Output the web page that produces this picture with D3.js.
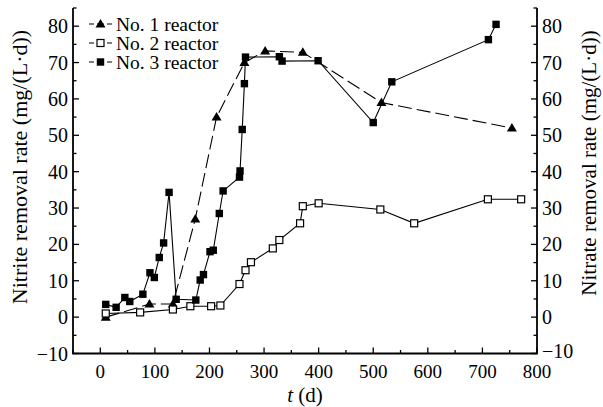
<!DOCTYPE html>
<html>
<head>
<meta charset="utf-8">
<script src="https://cdn.jsdelivr.net/npm/d3@7"></script>
<style>
  body { margin: 0; background: #fff; }
  text { font-family: "Liberation Serif", "Times New Roman", serif; fill: #000; }
</style>
</head>
<body>
<div id="chart"></div>
<script>
// values
const days1 = [10, 90, 133, 174, 213, 264, 302, 371, 515, 754];
const rate1 = [0, 3.6, 3.6, 27, 55, 70, 73.2, 72.8, 59, 52];

const days2 = [10, 73, 133, 165, 203, 220, 255, 266, 276, 316, 328, 366, 371, 400, 513, 575, 710, 771];
const rate2 = [1.0, 1.3, 2.1, 3.0, 3.0, 3.2, 9.1, 12.9, 15.1, 18.9, 21.2, 25.8, 30.5, 31.3, 29.6, 25.8, 32.4, 32.4];

const days3 = [10, 29, 45, 54, 78, 91, 99, 108, 116, 126, 139, 175, 183, 189, 201, 207, 218, 225, 255, 256, 260, 264, 266, 328, 333, 399, 500, 534, 711, 725];
const rate3 = [3.5, 2.7, 5.4, 4.3, 6.3, 12.2, 10.9, 16.4, 20.4, 34.3, 4.9, 4.7, 10.2, 11.7, 18.0, 18.4, 28.5, 34.7, 38.5, 40.2, 51.6, 64.2, 71.5, 71.6, 70.4, 70.5, 53.5, 64.7, 76.3, 80.5];

const seriesNames = ["No. 1 reactor", "No. 2 reactor", "No. 3 reactor"];
const xTicks = [0, 100, 200, 300, 400, 500, 600, 700, 800];
const yTicks = [-10, 0, 10, 20, 30, 40, 50, 60, 70, 80];

var width = 603, height = 407;
var margin = {top: 8, right: 66, bottom: 53.5, left: 73};

var x = d3.scaleLinear().domain([-50, 800]).range([margin.left, width - margin.right]);
var y = d3.scaleLinear().domain([-10, 85]).range([height - margin.bottom, margin.top]);

var svg = d3.select("#chart").append("svg")
  .attr("width", width)
  .attr("height", height);

function zip(a, b) { return a.map(function(d, i) { return [d, b[i]]; }); }

var series = [
  {name: seriesNames[0], pts: zip(days1, rate1), marker: "tri", dash: "14,5"},
  {name: seriesNames[1], pts: zip(days2, rate2), marker: "open", dash: null},
  {name: seriesNames[2], pts: zip(days3, rate3), marker: "fill", dash: null}
];

var line = d3.line().x(function(d) { return x(d[0]); }).y(function(d) { return y(d[1]); });

function drawMarker(g, kind, cx, cy) {
  if (kind == "tri") {
    g.append("path")
      .attr("d", "M" + cx + "," + (cy - 5) + "L" + (cx + 5) + "," + (cy + 3.5) + "L" + (cx - 5) + "," + (cy + 3.5) + "Z")
      .attr("fill", "#000");
  } else if (kind == "open") {
    g.append("rect").attr("x", cx - 3.5).attr("y", cy - 3.5).attr("width", 7).attr("height", 7)
      .attr("fill", "#fff").attr("stroke", "#000").attr("stroke-width", 1.2);
  } else {
    g.append("rect").attr("x", cx - 3.7).attr("y", cy - 3.7).attr("width", 7.4).attr("height", 7.4)
      .attr("fill", "#000");
  }
}

// lines + markers
series.forEach(function(s) {
  svg.append("path")
    .datum(s.pts)
    .attr("d", line)
    .attr("fill", "none")
    .attr("stroke", "#000")
    .attr("stroke-width", 1.1)
    .attr("stroke-dasharray", s.dash);
});
series.forEach(function(s) {
  var g = svg.append("g");
  s.pts.forEach(function(p) { drawMarker(g, s.marker, x(p[0]), y(p[1])); });
});

// axes
var x0 = x(-50), x1 = x(800), yb = y(-10), yt = y(85);
var axes = svg.append("g").attr("stroke", "#000").attr("stroke-width", 1.8).attr("fill", "none");
axes.append("path").attr("d", "M" + x0 + "," + yt + "V" + yb + "H" + x1 + "V" + yt);

var ticks = svg.append("g").attr("stroke", "#000").attr("stroke-width", 1.3);
d3.range(-50, 801, 50).forEach(function(v) {
  var len = (v % 100 == 0) ? 6 : 3.5;
  ticks.append("line").attr("x1", x(v)).attr("x2", x(v)).attr("y1", yb).attr("y2", yb - len);
});
d3.range(-10, 86, 5).forEach(function(v) {
  var len = (v % 10 == 0) ? 6 : 3.5;
  ticks.append("line").attr("x1", x0).attr("x2", x0 + len).attr("y1", y(v)).attr("y2", y(v));
  ticks.append("line").attr("x1", x1).attr("x2", x1 - len).attr("y1", y(v)).attr("y2", y(v));
});

// tick labels
svg.selectAll(".xl").data(xTicks).enter().append("text")
  .attr("x", function(d) { return x(d); })
  .attr("y", yb + 24)
  .attr("text-anchor", "middle")
  .style("font-size", "19px")
  .text(function(d) { return d; });

svg.selectAll(".yl").data(yTicks).enter().append("text")
  .attr("x", x0 - 5)
  .attr("y", function(d) { return y(d) + 7; })
  .attr("text-anchor", "end")
  .style("font-size", "20px")
  .text(function(d) { return d < 0 ? "\u2212" + (-d) : d; });

svg.selectAll(".yr").data(yTicks).enter().append("text")
  .attr("x", x1 + 5)
  .attr("y", function(d) { return y(d) + (d < 0 ? 4 : 7); })
  .attr("text-anchor", "start")
  .style("font-size", "20px")
  .text(function(d) { return d < 0 ? "\u2212" + (-d) : d; });

// axis titles
svg.append("text")
  .attr("transform", "translate(27,167) rotate(-90)")
  .attr("text-anchor", "middle")
  .style("font-size", "22px")
  .text("Nitrite removal rate (mg/(L\u00b7d))");

svg.append("text")
  .attr("transform", "translate(596,163) rotate(-90)")
  .attr("text-anchor", "middle")
  .style("font-size", "21px")
  .text("Nitrate removal rate (mg/(L\u00b7d))");

var xt = svg.append("text")
  .attr("x", 305)
  .attr("y", 402)
  .attr("text-anchor", "middle")
  .style("font-size", "21px");
xt.append("tspan").style("font-style", "italic").text("t");
xt.append("tspan").text(" (d)");

// legend
var leg = svg.append("g");
series.forEach(function(s, i) {
  var ly = 24 + i * 19;
  leg.append("line").attr("x1", 89).attr("x2", 112).attr("y1", ly).attr("y2", ly)
    .attr("stroke", "#000").attr("stroke-width", 1.1)
    .attr("stroke-dasharray", "5,3,7,3,5");
  drawMarker(leg, s.marker, 100.5, ly);
  leg.append("text")
    .attr("x", 116)
    .attr("y", ly + 6.5)
    .style("font-size", "19.5px")
    .text(s.name);
});
</script>
</body>
</html>
